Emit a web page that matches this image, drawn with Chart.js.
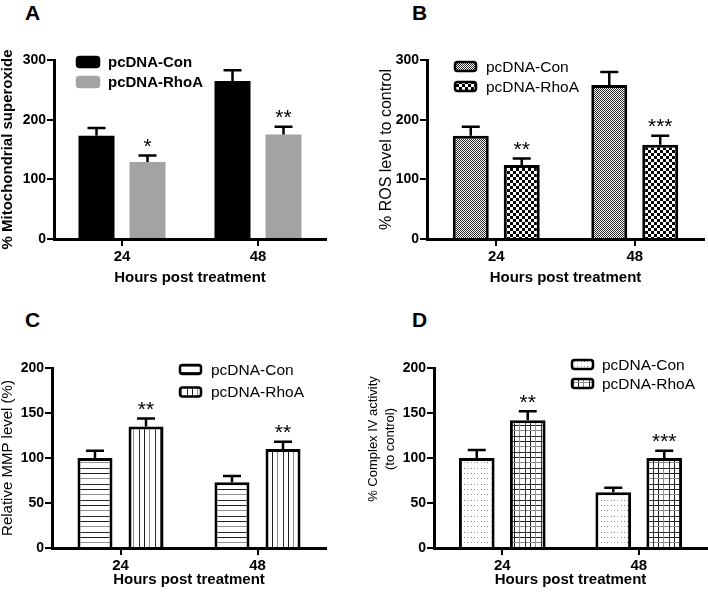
<!DOCTYPE html>
<html>
<head>
<meta charset="utf-8">
<script src="https://cdn.jsdelivr.net/npm/chart.js@4.4.0/dist/chart.umd.min.js"></script>
<style>
body{margin:0;background:#fff;width:708px;height:594px;position:relative;overflow:hidden;font-family:'Liberation Sans',Arial,sans-serif}
canvas{position:absolute}
.lbl{position:absolute;font-weight:bold;font-size:21px;line-height:1;color:#000}
</style>
</head>
<body>
<div class="lbl" style="left:25px;top:2px">A</div>
<div class="lbl" style="left:412px;top:2px">B</div>
<div class="lbl" style="left:25px;top:309px">C</div>
<div class="lbl" style="left:412px;top:309px">D</div>
<canvas id="cA" width="354" height="297" style="left:0;top:0"></canvas>
<canvas id="cB" width="354" height="297" style="left:354px;top:0"></canvas>
<canvas id="cC" width="354" height="297" style="left:0;top:297px"></canvas>
<canvas id="cD" width="354" height="297" style="left:354px;top:297px"></canvas>
<script>
var hours = ['24', '48'];
var seriesNames = ['pcDNA-Con', 'pcDNA-RhoA'];

// A - mitochondrial superoxide
var supCon = [173, 265], supConErr = [13, 18];
var supRho = [129, 175], supRhoErr = [11, 13];
var supStars = ['*', '**'];

// B - ROS
var rosCon = [173, 258], rosConErr = [15, 22];
var rosRho = [124, 158], rosRhoErr = [11, 15];
var rosStars = ['**', '***'];

// C - MMP
var mmpCon = [100, 73], mmpConErr = [8, 7];
var mmpRho = [135, 110], mmpRhoErr = [9, 8];
var mmpStars = ['**', '**'];

// D - complex IV
var cxCon = [100, 62], cxConErr = [9, 5];
var cxRho = [142, 100], cxRhoErr = [10, 8];
var cxStars = ['**', '***'];

var ticks300 = [0, 100, 200, 300];
var ticks200 = [0, 50, 100, 150, 200];

var FONT = "'Liberation Sans', Arial, sans-serif";
Chart.defaults.font.family = FONT;
Chart.defaults.color = '#000';

function pattern(w, h, draw) {
	var c = document.createElement('canvas');
	c.width = w; c.height = h;
	var g = c.getContext('2d');
	g.fillStyle = '#fff';
	g.fillRect(0, 0, w, h);
	draw(g);
	return g.createPattern(c, 'repeat');
}
var fineCheck = pattern(2, 2, function(g){
	g.fillStyle = '#2a2a2a';
	g.fillRect(0, 0, 1, 1); g.fillRect(1, 1, 1, 1);
});
var bigCheck = pattern(6, 6, function(g){
	g.fillStyle = '#000';
	g.fillRect(0, 0, 3, 3); g.fillRect(3, 3, 3, 3);
});
var steps = [0, 5, 11], shades = ['#1e1e1e', '#8e8e8e', '#2e2e2e'];
var hLines = pattern(4, 16, function(g){
	steps.forEach(function(s, i){ g.fillStyle = shades[i]; g.fillRect(0, s, 4, 1); });
});
var vLines = pattern(16, 4, function(g){
	steps.forEach(function(s, i){ g.fillStyle = shades[i]; g.fillRect(s, 0, 1, 4); });
});
var dots = pattern(10, 16, function(g){
	[0, 3, 7].forEach(function(x, i){
		steps.forEach(function(y, j){
			g.fillStyle = (i + j) % 2 ? '#b0b0b0' : '#7a7a7a';
			g.fillRect(x, y, 1, 1);
		});
	});
});
var gridPat = pattern(16, 16, function(g){
	steps.forEach(function(s, i){
		g.fillStyle = shades[i];
		g.fillRect(0, s, 16, 1);
		g.fillRect(s, 0, 1, 16);
	});
});

function box(ctx, x, y, w, h, r) {
	ctx.beginPath();
	ctx.moveTo(x + r, y);
	ctx.arcTo(x + w, y, x + w, y + h, r);
	ctx.arcTo(x + w, y + h, x, y + h, r);
	ctx.arcTo(x, y + h, x, y, r);
	ctx.arcTo(x, y, x + w, y, r);
	ctx.closePath();
}

var extras = {
	id: 'extras',
	afterDatasetsDraw: function(chart) {
		var o = chart.options.plugins.extras;
		var ctx = chart.ctx, ys = chart.scales.y;
		ctx.save();
		chart.data.datasets.forEach(function(ds, i){
			chart.getDatasetMeta(i).data.forEach(function(bar, j){
				var top = ys.getPixelForValue(ds.data[j] + ds.errors[j]);
				ctx.strokeStyle = '#000';
				ctx.lineWidth = 2.5;
				ctx.beginPath();
				ctx.moveTo(bar.x, bar.y);
				ctx.lineTo(bar.x, top);
				ctx.moveTo(bar.x - 9, top);
				ctx.lineTo(bar.x + 9, top);
				ctx.stroke();
				if (ds.stars) {
					ctx.fillStyle = '#000';
					ctx.font = '21px ' + FONT;
					ctx.textAlign = 'center';
					ctx.textBaseline = 'alphabetic';
					ctx.fillText(ds.stars[j], bar.x, top - 2.5);
				}
			});
			// legend row
			var lg = o.legend;
			var by = lg.y + i * lg.gap;
			box(ctx, lg.x, by, lg.w, lg.h, 2.5);
			ctx.fillStyle = ds.backgroundColor;
			ctx.fill();
			ctx.lineWidth = 2.5;
			ctx.strokeStyle = lg.plain ? ds.backgroundColor : '#000';
			ctx.stroke();
			ctx.fillStyle = '#000';
			ctx.font = lg.font;
			ctx.textAlign = 'left';
			ctx.textBaseline = 'middle';
			ctx.fillText(ds.label, lg.tx, by + lg.h / 2 + 1);
		});
		// free-standing y title (two lines, not centred on the axis)
		if (o.ytext) {
			var t = o.ytext;
			ctx.fillStyle = '#000';
			ctx.font = t.font;
			ctx.textAlign = 'center';
			ctx.textBaseline = 'middle';
			t.lines.forEach(function(line, k){
				ctx.save();
				ctx.translate(t.x[k], t.y);
				ctx.rotate(-Math.PI / 2);
				ctx.fillText(line, 0, 0);
				ctx.restore();
			});
		}
		ctx.restore();
	}
};

function makeChart(id, p) {
	var ds = function(k) {
		return {
			label: seriesNames[k],
			data: k ? p.rho : p.con,
			errors: k ? p.rhoErr : p.conErr,
			stars: k ? p.stars : null,
			backgroundColor: p.fill[k],
			borderColor: p.border ? '#000' : p.fill[k],
			borderWidth: p.border ? 3 : 0,
			categoryPercentage: p.cat,
			barPercentage: p.bar
		};
	};
	return new Chart(document.getElementById(id), {
		type: 'bar',
		data: { labels: hours, datasets: [ds(0), ds(1)] },
		plugins: [extras],
		options: {
			responsive: false,
			animation: false,
			devicePixelRatio: 1,
			layout: { padding: { left: 0, right: 354 - p.area[1], top: p.area[2], bottom: 0 } },
			plugins: {
				legend: { display: false },
				tooltip: { enabled: false },
				extras: { legend: p.legend, ytext: p.ytext || null }
			},
			scales: {
				x: {
					grid: { drawOnChartArea: false, offset: false, tickLength: 7, lineWidth: 2, color: '#000' },
					border: { color: '#000', width: 3, z: 1 },
					ticks: { color: '#000', font: { size: 15, weight: 'bold' }, padding: 2 },
					title: { display: true, text: 'Hours post treatment', color: '#000',
						font: { size: 15, weight: 'bold', lineHeight: 1.2 }, padding: { top: 0, bottom: p.xpad } },
					afterFit: function(s){ s.height = 297 - p.area[3]; }
				},
				y: {
					min: 0, max: p.ticks[p.ticks.length - 1],
					afterBuildTicks: function(s){ s.ticks = p.ticks.map(function(v){ return { value: v }; }); },
					grid: { drawOnChartArea: false, tickLength: 7, lineWidth: 2, color: '#000' },
					border: { color: '#000', width: 3, z: 1 },
					ticks: { color: '#000', font: { size: 14, weight: 'bold' }, padding: 1 },
					title: { display: !!p.ytitle, text: p.ytitle || '', color: '#000', font: p.yfont, padding: { top: p.ypad, bottom: 0 } },
					afterFit: function(s){ s.width = p.area[0]; }
				}
			}
		}
	});
}

makeChart('cA', {
	con: supCon, conErr: supConErr, rho: supRho, rhoErr: supRhoErr, stars: supStars,
	fill: ['#000', '#a3a3a3'], border: false,
	area: [54, 326, 60, 239], cat: 0.75, bar: 0.706, ticks: ticks300, xpad: 10,
	ytitle: '% Mitochondrial superoxide', yfont: { size: 15, weight: 'bold', lineHeight: 1 }, ypad: 0,
	legend: { x: 77, y: 57, w: 22, h: 10, gap: 20, tx: 108, plain: true, font: 'bold 15px ' + FONT }
});
makeChart('cB', {
	con: rosCon, conErr: rosConErr, rho: rosRho, rhoErr: rosRhoErr, stars: rosStars,
	fill: [fineCheck, bigCheck], border: true,
	area: [73, 350, 60, 239], cat: 0.736, bar: 0.706, ticks: ticks300, xpad: 10,
	ytitle: '% ROS level to control', yfont: { size: 16, lineHeight: 1.2 }, ypad: 23,
	legend: { x: 101, y: 62, w: 21, h: 9, gap: 20, tx: 132, font: '15.5px ' + FONT }
});
makeChart('cC', {
	con: mmpCon, conErr: mmpConErr, rho: mmpRho, rhoErr: mmpRhoErr, stars: mmpStars,
	fill: [hLines, vLines], border: true,
	area: [52, 326, 71, 251], cat: 0.745, bar: 0.686, ticks: ticks200, xpad: 5,
	ytitle: 'Relative MMP level (%)', yfont: { size: 15, lineHeight: 1 }, ypad: 0,
	legend: { x: 180, y: 68, w: 21, h: 9, gap: 22.5, tx: 211, font: '15.5px ' + FONT }
});
makeChart('cD', {
	con: cxCon, conErr: cxConErr, rho: cxRho, rhoErr: cxRhoErr, stars: cxStars,
	fill: [dots, gridPat], border: true,
	area: [80, 353, 71, 251], cat: 0.747, bar: 0.70, ticks: ticks200, xpad: 5,
	ytitle: null,
	ytext: { lines: ['% Complex IV activity', '(to control)'], x: [19, 36], y: 142, font: '13px ' + FONT },
	legend: { x: 218, y: 63, w: 21, h: 9, gap: 19, tx: 248, font: '15.5px ' + FONT }
});
</script>
</body>
</html>
